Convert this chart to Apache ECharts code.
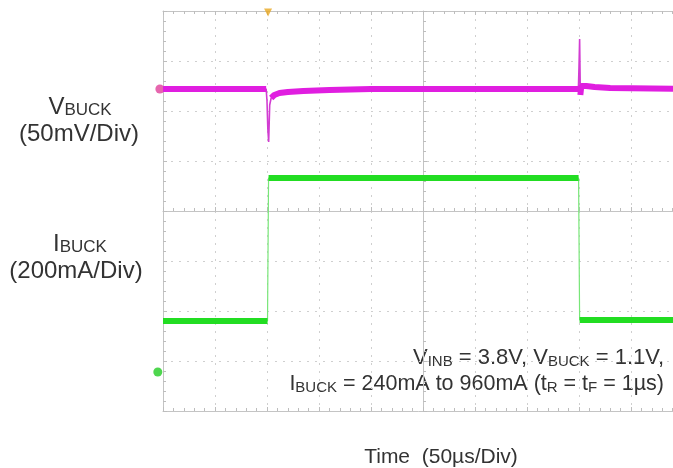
<!DOCTYPE html>
<html>
<head>
<meta charset="UTF-8">
<title>VBUCK / IBUCK load transient</title>
<script src="https://cdn.jsdelivr.net/npm/echarts@6/dist/echarts.min.js"></script>
<style>
  html, body { margin: 0; padding: 0; background: #fff; }
  #main { width: 673px; height: 468px; }
</style>
</head>
<body>
<div id="main"></div>
<script type="text/javascript">
// time in us (50us/div, 10 div)
var vT  = [0, 99.2, 100.0, 100.8, 101.6, 102.6, 104, 107, 112, 120, 135, 160, 200,
           399.4, 400.0, 400.6, 401.3, 402.2, 403.5, 407, 415, 430, 500];
// VBUCK deviation in mV (50mV/div)
var vMv = [0, 0, -12, -40, -53, -16, -9, -6, -4, -3, -2, -1, 0,
           0, 22, 50, -6, 3, 5, 3, 2, 1, 0];
// IBUCK in mA (200mA/div)
var iT  = [0, 100.5, 101.5, 399.6, 400.6, 500];
var iMa = [204, 204, 776, 776, 208, 208];

var FONT = 'Liberation Sans, Arial, sans-serif';

var myChart = echarts.init(document.getElementById('main'));

function pairs(t, v) {
  var out = [];
  for (var i = 0; i < t.length; i++) out.push([t[i], v[i]]);
  return out;
}
// thick trace only where the signal is flat, thin where it jumps
function flatOnly(t, v, lim) {
  var out = [];
  for (var i = 0; i < t.length; i++) {
    if (Math.abs(v[i] - (i > 0 ? v[i - 1] : v[i])) > lim) out.push([t[i], '-']);
    out.push([t[i], v[i]]);
  }
  return out;
}
function flatBand(t, v, lim) {
  var out = [];
  for (var i = 0; i < t.length; i++) {
    out.push([t[i], Math.abs(v[i]) <= lim ? v[i] : '-']);
  }
  return out;
}

var gridDash = { color: '#cfcfcf', width: 1, type: [2, 6] };
var edge = { show: true, lineStyle: { color: '#c4c4c4', width: 1 } };
var minor = { show: true, splitNumber: 5, length: 3, lineStyle: { color: '#bdbdbd' } };
var tick = { show: true, inside: true, length: 4, lineStyle: { color: '#bdbdbd' } };

function xAx(pos, off, split) {
  return {
    type: 'value', min: 0, max: 500, interval: 50, position: pos, offset: off,
    axisLine: { show: true, onZero: false, lineStyle: edge.lineStyle },
    axisTick: tick, minorTick: minor, axisLabel: { show: false },
    splitLine: { show: split, lineStyle: gridDash }
  };
}
function yAx(pos, off, split) {
  return {
    type: 'value', min: -4, max: 4, interval: 1, position: pos, offset: off,
    axisLine: { show: true, onZero: false, lineStyle: edge.lineStyle },
    axisTick: tick, minorTick: minor, axisLabel: { show: false },
    splitLine: { show: split, lineStyle: gridDash }
  };
}

var sub = { fontSize: 15, fontFamily: FONT, fill: '#333', verticalAlign: 'bottom', padding: [4, 0, 0, 0] };
var subL = { fontSize: 17, fontFamily: FONT, fill: '#333', verticalAlign: 'bottom', padding: [4, 0, 0, 0] };

var option = {
  backgroundColor: '#fff',
  animation: false,
  grid: { left: 163, top: 11, width: 520, height: 400, show: false, outerBoundsMode: 'none', containLabel: false },
  xAxis: [
    xAx('bottom', 0, true),
    xAx('top', 0, false),
    xAx('bottom', -200, false)
  ],
  yAxis: [
    yAx('left', 0, true),
    yAx('left', -260, false),
    { type: 'value', min: -322, max: 78, show: false },
    { type: 'value', min: -156, max: 1444, show: false }
  ],
  series: [
    {
      name: 'IBUCK edges', type: 'line', xAxisIndex: 0, yAxisIndex: 3,
      data: pairs(iT, iMa), symbol: 'none', clip: false,
      lineStyle: { color: '#78e678', width: 1.2 }
    },
    {
      name: 'IBUCK', type: 'line', xAxisIndex: 0, yAxisIndex: 3,
      data: flatOnly(iT, iMa, 50), symbol: 'none', connectNulls: false,
      lineStyle: { color: '#22dd22', width: 6 }
    },
    {
      name: 'VBUCK spike', type: 'line', xAxisIndex: 0, yAxisIndex: 2,
      data: pairs(vT, vMv), symbol: 'none',
      lineStyle: { color: '#d23cd2', width: 1.6 }
    },
    {
      name: 'VBUCK', type: 'line', xAxisIndex: 0, yAxisIndex: 2,
      data: flatBand(vT, vMv, 10), symbol: 'none', connectNulls: false,
      lineStyle: { color: '#e01ee0', width: 6 }
    },
    {
      name: 'markers', type: 'scatter', xAxisIndex: 0, yAxisIndex: 2, clip: false,
      symbolSize: 9, silent: true,
      data: [ { value: [-3, 0], itemStyle: { color: '#e0409a' } } ]
    },
    {
      name: 'gnd', type: 'scatter', xAxisIndex: 0, yAxisIndex: 3, clip: false,
      symbolSize: 9, silent: true,
      data: [ { value: [-5, 0], itemStyle: { color: '#22cc22' } } ]
    },
    {
      name: 'trig', type: 'scatter', xAxisIndex: 0, yAxisIndex: 0, clip: false,
      symbol: 'triangle', symbolRotate: 180, symbolSize: 8, silent: true,
      data: [ { value: [101, 3.97], itemStyle: { color: '#e8a820' } } ]
    }
  ],
  graphic: [
    {
      type: 'text', x: 80, y: 107,
      style: {
        text: '{m|V}{s|BUCK}', align: 'center', verticalAlign: 'middle',
        rich: { m: { fontSize: 24, fontFamily: FONT, fill: '#333' }, s: subL }
      }
    },
    { type: 'text', x: 79, y: 134,
      style: { text: '(50mV/Div)', align: 'center', verticalAlign: 'middle', fontSize: 24, fontFamily: FONT, fill: '#333' } },
    {
      type: 'text', x: 80, y: 244,
      style: {
        text: '{m|I}{s|BUCK}', align: 'center', verticalAlign: 'middle',
        rich: { m: { fontSize: 24, fontFamily: FONT, fill: '#333' }, s: subL }
      }
    },
    { type: 'text', x: 76, y: 271,
      style: { text: '(200mA/Div)', align: 'center', verticalAlign: 'middle', fontSize: 24, fontFamily: FONT, fill: '#333' } },
    { type: 'text', x: 441, y: 457,
      style: { text: 'Time  (50\u00b5s/Div)', align: 'center', verticalAlign: 'middle', fontSize: 21, fontFamily: FONT, fill: '#333' } },
    {
      type: 'text', x: 664, y: 358,
      style: {
        text: '{m|V}{s|INB}{m| = 3.8V, V}{s|BUCK}{m| = 1.1V,}', align: 'right', verticalAlign: 'middle',
        rich: { m: { fontSize: 22, fontFamily: FONT, fill: '#333' }, s: sub }
      }
    },
    {
      type: 'text', x: 664, y: 384,
      style: {
        text: '{m|I}{s|BUCK}{m| = 240mA to 960mA (t}{s|R}{m| = t}{s|F}{m| = 1\u00b5s)}', align: 'right', verticalAlign: 'middle',
        rich: { m: { fontSize: 21.5, fontFamily: FONT, fill: '#333' }, s: sub }
      }
    }
  ]
};

myChart.setOption(option);
</script>
</body>
</html>
